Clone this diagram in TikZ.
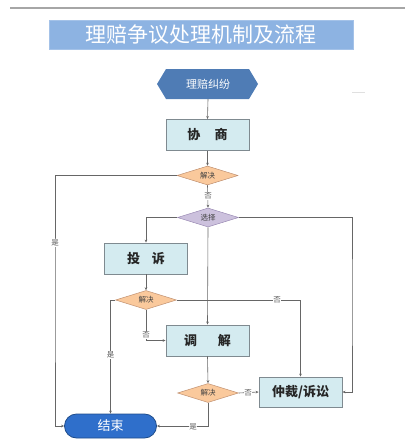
\documentclass[tikz,border=0pt]{standalone}
\usepackage{fontspec}
\setmainfont{Noto Sans CJK SC}
\usetikzlibrary{shapes.geometric,arrows.meta,calc}
\definecolor{titlebg}{HTML}{8DB3E2}
\definecolor{hexbg}{HTML}{4F7CB5}
\definecolor{boxbg}{HTML}{D4EBF0}
\definecolor{boxline}{HTML}{7F8A90}
\definecolor{orangebg}{HTML}{FAC99C}
\definecolor{orangeline}{HTML}{C09070}
\definecolor{purplebg}{HTML}{CCC1DD}
\definecolor{purpleline}{HTML}{9A8AB4}
\definecolor{endbg}{HTML}{2F6FCB}
\definecolor{endline}{HTML}{1F4C8A}
\definecolor{conn}{HTML}{666666}
\begin{document}
\begin{tikzpicture}[x=1pt,y=-1pt,
  stepbox/.style={draw=boxline,line width=0.9pt,fill=boxbg,minimum width=83pt,minimum height=31pt,inner sep=0pt,font=\fontsize{13}{13}\selectfont\bfseries,text=black!85},
  decide/.style={diamond,draw=orangeline,line width=0.5pt,fill=orangebg,minimum width=61pt,minimum height=19pt,inner sep=0pt,aspect=3,font=\fontsize{7.5}{7.5}\selectfont,text=black!75},
  lbl/.style={fill=white,inner sep=0.6pt,font=\fontsize{7.5}{7.5}\selectfont,text=black!65},
  conline/.style={draw=conn,line width=0.6pt},
  arr/.style={conline,-{Stealth[length=3pt,width=2.6pt]}}
]
\useasboundingbox (0,0) rectangle (418,447);
% top rule
\draw[line width=2pt,draw=black!35] (10,8) -- (405,8);
\draw[line width=1pt,draw=black!12] (352,92) -- (365,92);
% title
\node[fill=titlebg,draw=titlebg!80!white,minimum width=304pt,minimum height=29pt,inner sep=0pt,text=white,font=\fontsize{21}{21}\selectfont] (title) at (201,34.5) {理赔争议处理机制及流程};
% hexagon
\fill[hexbg] (157,84) -- (166,69) -- (249,69) -- (258,84) -- (249,99) -- (166,99) -- cycle;
\node[minimum width=101pt,minimum height=30pt,inner sep=0pt,text=white,font=\fontsize{11}{11}\selectfont] (hex) at (208,84) {理赔纠纷};
% nodes
\node[stepbox] (xs) at (207.5,135) {协\hspace{1.1em}商};
\node[decide] (d1) at (207.5,175.5) {解决};
\node[decide,fill=purplebg,draw=purpleline] (sel) at (208,217.5) {选择};
\node[stepbox] (ts) at (146,258.5) {投\hspace{0.9em}诉};
\node[decide] (d2) at (146,300) {解决};
\node[stepbox] (tj) at (207.5,340.5) {调\hspace{1.6em}解};
\node[decide] (d3) at (208,393) {解决};
\node[stepbox,minimum height=30pt] (zc) at (300.5,392) {仲裁/诉讼};
\node[draw=endline,line width=0.8pt,fill=endbg,rounded corners=12pt,minimum width=92pt,minimum height=24pt,inner sep=0pt,text=white,font=\fontsize{13}{13}\selectfont] (end) at (110.5,426) {结束};
% helper coordinates
\coordinate (cl) at (55,300);
\coordinate (cr) at (352,300);
% connectors
\draw[arr] (hex.south) -- (xs.north);
\draw[arr] (xs.south) -- (d1.north);
\draw[arr] (d1.west) -| (cl) |- (end.west);
\node[lbl] (l1) at (55,243) {是};
\draw[arr] (d1.south) -- (sel.north);
\node[lbl] (l2) at (208,196) {否};
\draw[arr] (sel.west) -| (ts.north);
\draw[arr] (sel.east) -| (cr) |- (zc.east);
\draw[arr] (sel.south) -- (tj.north);
\draw[arr] (ts.south) -- (d2.north);
\draw[arr] (d2.east) -| (zc.north);
\node[lbl] (l3) at (277,300) {否};
\draw[arr] (d2.south) |- (tj.west);
\node[lbl] (l4) at (146,335) {否};
\draw[arr] (d2.west) -| (end.north);
\node[lbl] (l5) at (110.5,355) {是};
\draw[arr] (tj.south) -- (d3.north);
\draw[arr] (d3.east) -- (zc.west);
\node[lbl] (l6) at (248,393) {否};
\draw[arr] (d3.south) |- (end.east);
\node[lbl] (l7) at (193,427) {是};
\end{tikzpicture}
\end{document}
